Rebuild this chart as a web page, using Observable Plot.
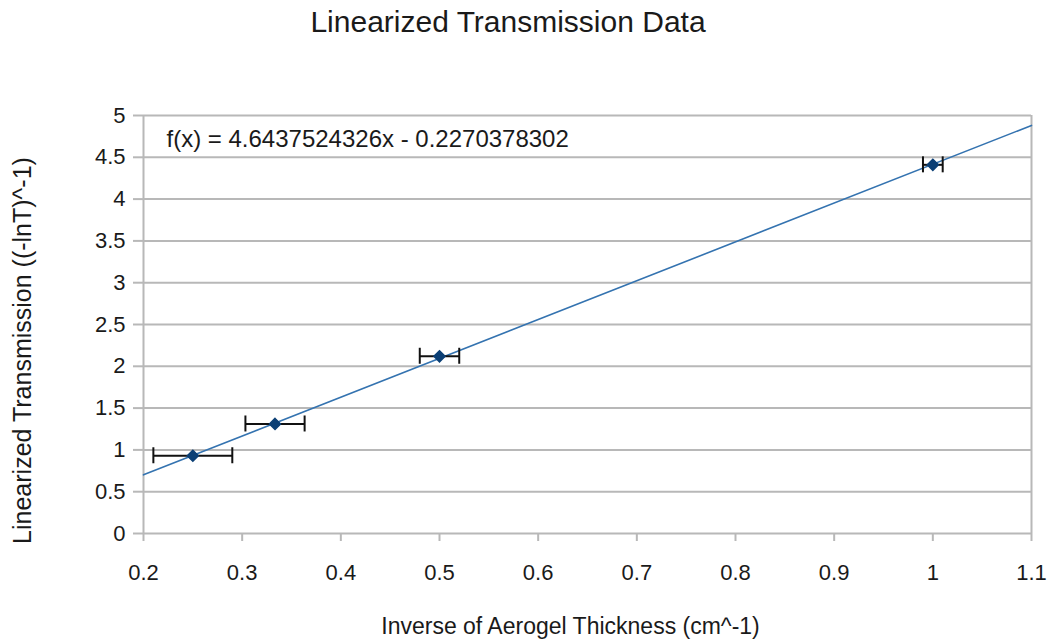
<!DOCTYPE html>
<html>
<head>
<meta charset="utf-8">
<script src="https://cdn.jsdelivr.net/npm/d3@7"></script>
<script src="https://cdn.jsdelivr.net/npm/@observablehq/plot@0.6"></script>
<style>
  body { margin: 0; background: #fff; }
  #title { width: 1052px; box-sizing: border-box; padding-right: 36px; height: 50px; line-height: 44px;
           text-align: center; font-family: "Liberation Sans", Arial, sans-serif; font-size: 30px; color: #1a1a1a; }
</style>
</head>
<body>
<div id="title">Linearized Transmission Data</div>
<div id="chart"></div>
<script>
const xs = [0.25, 0.3333, 0.5, 1.0];
const ys = [0.93, 1.31, 2.12, 4.41];
const xErr = [0.04, 0.03, 0.02, 0.01];
const slope = 4.6437524326;
const intercept = -0.2270378302;
const fitX = [0.2, 1.1];
const xTicks = [0.2, 0.3, 0.4, 0.5, 0.6, 0.7, 0.8, 0.9, 1, 1.1];
const yTicks = [0, 0.5, 1, 1.5, 2, 2.5, 3, 3.5, 4, 4.5, 5];
const eqText = "f(x) = 4.6437524326x - 0.2270378302";
const xLabel = "Inverse of Aerogel Thickness (cm^-1)";
const yLabel = "Linearized Transmission ((-lnT)^-1)";

const pts = xs.map((x, i) => ({x, y: ys[i], e: xErr[i]}));
const fit = fitX.map(x => ({x, y: slope * x + intercept}));
const grid = "#b8b8b8";
const ink = "#1a1a1a";

const chart = Plot.plot({
  width: 1052, height: 592,
  marginTop: 65, marginBottom: 109, marginLeft: 143, marginRight: 21,
  style: {fontFamily: "'Liberation Sans', Arial, sans-serif", background: "white", color: ink},
  x: {domain: [0.2, 1.1]},
  y: {domain: [0, 5]},
  marks: [
    Plot.ruleY(yTicks, {stroke: grid, strokeWidth: 2}),
    Plot.ruleX([0.2, 1.1], {stroke: grid, strokeWidth: 2}),
    Plot.axisY(yTicks, {tickSize: 10, tickPadding: 8, stroke: grid, strokeWidth: 2, fill: ink, fontSize: 22, tickFormat: d => String(d), label: null}),
    Plot.axisX(xTicks, {tickSize: 8, tickPadding: 23, stroke: grid, strokeWidth: 2, fill: ink, fontSize: 22, tickFormat: d => String(d), label: null}),
    Plot.line(fit, {x: "x", y: "y", stroke: "#3473b0", strokeWidth: 1.6}),
    Plot.link(pts, {x1: d => d.x - d.e, x2: d => d.x + d.e, y1: "y", y2: "y", stroke: "#111", strokeWidth: 2}),
    Plot.ruleX(pts, {x: d => d.x - d.e, y1: "y", y2: "y", insetTop: -8, insetBottom: -8, stroke: "#111", strokeWidth: 2}),
    Plot.ruleX(pts, {x: d => d.x + d.e, y1: "y", y2: "y", insetTop: -8, insetBottom: -8, stroke: "#111", strokeWidth: 2}),
    Plot.dot(pts, {x: "x", y: "y", symbol: "diamond2", r: 5, fill: "#0b3f75", stroke: "#0b3f75"}),
    Plot.text([eqText], {frameAnchor: "top-left", dx: 23, dy: 14, textAnchor: "start", fontSize: 24, fill: ink}),
    Plot.text([xLabel], {frameAnchor: "bottom", dx: -17, dy: 100, textAnchor: "middle", fontSize: 23, fill: ink}),
    Plot.text([yLabel], {frameAnchor: "left", dx: -121, dy: 26, rotate: -90, textAnchor: "middle", fontSize: 25, fill: ink})
  ]
});
document.getElementById("chart").appendChild(chart);
</script>
</body>
</html>
